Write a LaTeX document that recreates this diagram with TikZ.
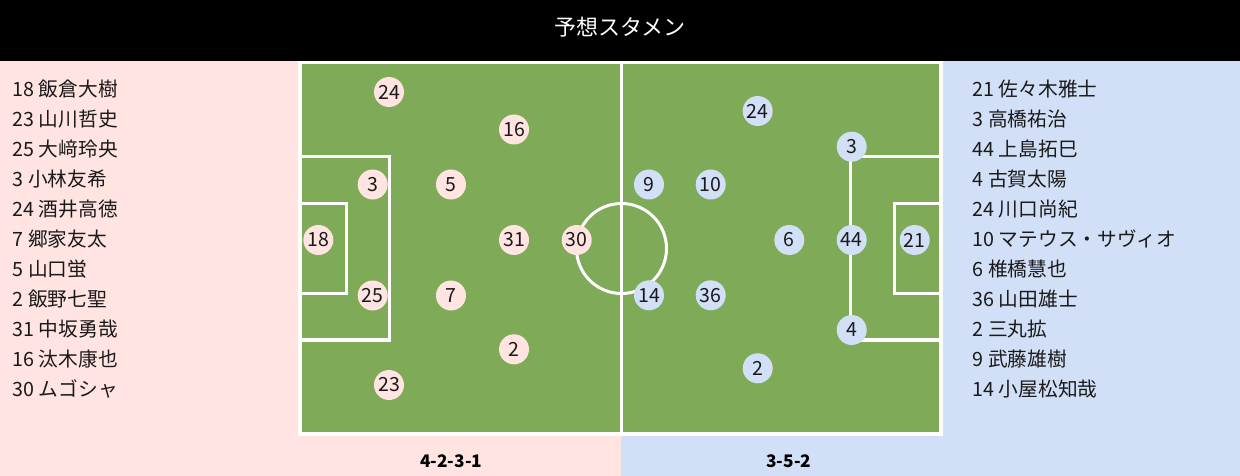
\documentclass[tikz,border=0pt]{standalone}
\usepackage{fontspec}
\setmainfont{Noto Sans CJK JP}
\definecolor{pinkbg}{HTML}{FFE4E1}
\definecolor{bluebg}{HTML}{D2E0F7}
\definecolor{pitchgreen}{HTML}{7FAA57}
\definecolor{ink}{HTML}{1A1A1A}
\begin{document}
\begin{tikzpicture}[x=1pt,y=-1pt,
  plyl/.style={circle,fill=pinkbg,minimum size=30pt,inner sep=0pt,text=ink,font=\fontsize{19.5}{19.5}\selectfont},
  plyr/.style={circle,fill=bluebg,minimum size=30pt,inner sep=0pt,text=ink,font=\fontsize{19.5}{19.5}\selectfont},
  lst/.style={anchor=base west,inner sep=0pt,text=ink,font=\fontsize{19.7}{19.7}\selectfont},
  chalk/.style={draw=white,line width=3.3pt},
  frm/.style={anchor=center,inner sep=0pt,text=black,font=\fontsize{17.3}{17.3}\selectfont\bfseries}]
\useasboundingbox (0,0) rectangle (1240,476);
% backgrounds
\fill[pinkbg] (0,60) rectangle (621,476);
\fill[bluebg] (621,60) rectangle (1240,476);
% pitch
\fill[pitchgreen] (299.5,62.5) rectangle (940.5,433.5);
\draw[chalk] (299.5,156.5) rectangle (389.7,340);
\draw[chalk] (299.5,203.3) rectangle (346.7,293.3);
\draw[chalk] (940.5,156.5) rectangle (850.7,340);
\draw[chalk] (940.5,203.3) rectangle (894.3,293.3);
\draw[draw=white,line width=3pt] (621.5,248.5) circle[radius=45];
\draw[draw=white,line width=3pt] (621.5,62.5) -- (621.5,433.5);
\draw[draw=white,line width=4pt] (299.5,62.5) rectangle (940.5,433.5);
% header
\fill[black] (0,0) rectangle (1240,61);
\node[text=white,inner sep=0pt,font=\fontsize{22}{22}\selectfont] (title) at (620,27) {予想スタメン};
% left team players
\node[plyl] (l24) at (389,92) {24};
\node[plyl] (l16) at (514,129.5) {16};
\node[plyl] (l3) at (372.7,184.5) {3};
\node[plyl] (l5) at (451,184.5) {5};
\node[plyl] (l18) at (318.3,240) {18};
\node[plyl] (l31) at (514,240) {31};
\node[plyl] (l30) at (576.7,240) {30};
\node[plyl] (l25) at (372.7,295.5) {25};
\node[plyl] (l7) at (451,295.5) {7};
\node[plyl] (l2) at (514,349.3) {2};
\node[plyl] (l23) at (389,385) {23};
% right team players
\node[plyr] (r24) at (757.7,111) {24};
\node[plyr] (r3) at (851.7,146.7) {3};
\node[plyr] (r9) at (649,184.5) {9};
\node[plyr] (r10) at (710.7,184.5) {10};
\node[plyr] (r6) at (789.3,240) {6};
\node[plyr] (r44) at (851.7,240) {44};
\node[plyr] (r21) at (914.7,240) {21};
\node[plyr] (r14) at (649,295.3) {14};
\node[plyr] (r36) at (710.7,295.3) {36};
\node[plyr] (r4) at (851.7,330) {4};
\node[plyr] (r2) at (757.7,368.3) {2};
% left list
\node[lst] (a1) at (12.5,96.7) {18 飯倉大樹};
\node[lst] (a2) at (12.5,126.7) {23 山川哲史};
\node[lst] (a3) at (12.5,156.7) {25 大﨑玲央};
\node[lst] (a4) at (12.5,186.7) {3 小林友希};
\node[lst] (a5) at (12.5,216.7) {24 酒井高徳};
\node[lst] (a6) at (12.5,246.7) {7 郷家友太};
\node[lst] (a7) at (12.5,276.7) {5 山口蛍};
\node[lst] (a8) at (12.5,306.7) {2 飯野七聖};
\node[lst] (a9) at (12.5,336.7) {31 中坂勇哉};
\node[lst] (a10) at (12.5,366.7) {16 汰木康也};
\node[lst] (a11) at (12.5,396.7) {30 ムゴシャ};
% right list
\node[lst] (b1) at (972.5,96.7) {21 佐々木雅士};
\node[lst] (b2) at (972.5,126.7) {3 高橋祐治};
\node[lst] (b3) at (972.5,156.7) {44 上島拓巳};
\node[lst] (b4) at (972.5,186.7) {4 古賀太陽};
\node[lst] (b5) at (972.5,216.7) {24 川口尚紀};
\node[lst] (b6) at (972.5,246.7) {10 マテウス・サヴィオ};
\node[lst] (b7) at (972.5,276.7) {6 椎橋慧也};
\node[lst] (b8) at (972.5,306.7) {36 山田雄士};
\node[lst] (b9) at (972.5,336.7) {2 三丸拡};
\node[lst] (b10) at (972.5,366.7) {9 武藤雄樹};
\node[lst] (b11) at (972.5,396.7) {14 小屋松知哉};
% formations
\node[frm] (fl) at (451.2,461.7) {4-2-3-1};
\node[frm] (fr) at (788.8,461.7) {3-5-2};
\end{tikzpicture}
\end{document}
